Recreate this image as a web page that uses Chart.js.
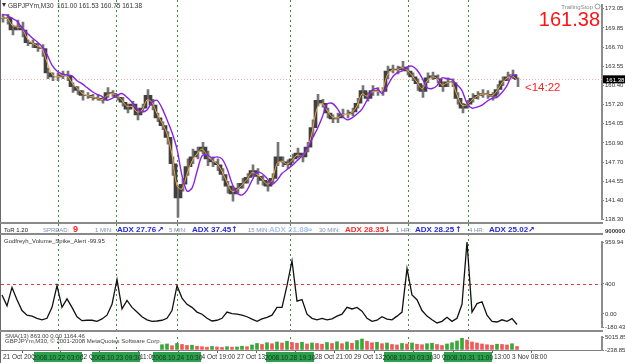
<!DOCTYPE html>
<html>
<head>
<meta charset="utf-8">
<script src="https://cdn.jsdelivr.net/npm/chart.js@4.4.1/dist/chart.umd.min.js"></script>
<style>
  html, body { margin: 0; padding: 0; background: #fff; }
  #wrap { position: relative; width: 625px; height: 363px; overflow: hidden; background: #fff; }
  .pane { position: absolute; left: 0; width: 625px; }
  #pricePane { top: 0; height: 224px; }
  #spikePane { top: 224px; height: 108px; }
  #volPane { top: 332px; height: 31px; }
</style>
</head>
<body>
<div id="wrap">
  <div class="pane" id="pricePane"><canvas id="priceChart"></canvas></div>
  <div class="pane" id="spikePane"><canvas id="spikeChart"></canvas></div>
  <div class="pane" id="volPane"><canvas id="volChart"></canvas></div>
</div>
<script>
// GBPJPYm M30, one entry per sampled bar
const closes = [
  171.44, 171.60, 169.51, 170.15, 169.51, 167.42, 167.26, 166.61, 166.45, 162.43,
  161.79, 161.79, 162.11, 161.95, 160.18, 159.53, 158.73, 158.73, 158.41, 158.25,
  157.93, 159.21, 159.05, 158.41, 157.60, 156.48, 157.28, 155.51, 156.64, 158.73,
  157.12, 155.03, 153.74, 151.81, 147.47, 141.84, 144.09, 146.99, 148.60, 149.56,
  150.21, 148.27, 147.79, 147.31, 145.70, 143.77, 142.48, 143.45, 144.25, 145.22,
  146.34, 145.38, 144.73, 143.77, 145.06, 148.60, 147.79, 147.31, 148.27, 149.24,
  148.60, 150.21, 153.42, 157.93, 157.44, 155.83, 154.87, 155.03, 155.67, 155.67,
  155.99, 157.44, 159.53, 158.25, 159.53, 159.37, 159.37, 162.75, 163.08, 162.92,
  163.40, 162.75, 161.79, 160.66, 159.37, 161.63, 161.95, 161.47, 160.18, 160.98,
  160.82, 158.25, 156.64, 157.28, 158.25, 158.73, 159.05, 158.89, 158.57, 159.70,
  161.14, 161.79, 162.11, 161.38
];
const highs = [
  172.08, 172.08, 170.31, 171.12, 170.80, 167.90, 167.90, 167.26, 167.10, 163.24,
  162.43, 162.43, 162.75, 162.75, 160.82, 160.18, 159.53, 159.21, 158.89, 158.73,
  158.41, 160.02, 159.53, 158.89, 158.41, 157.28, 157.76, 156.64, 157.28, 159.70,
  158.09, 155.83, 154.39, 152.78, 148.60, 143.77, 145.06, 148.27, 149.88, 150.21,
  151.01, 149.56, 148.60, 148.27, 146.67, 144.57, 143.77, 144.25, 145.06, 145.86,
  147.31, 146.67, 145.54, 144.57, 145.86, 151.01, 148.60, 148.11, 149.08, 150.04,
  149.24, 151.01, 154.71, 158.89, 158.09, 156.64, 155.51, 155.83, 156.48, 156.32,
  156.64, 158.25, 160.34, 159.21, 160.34, 160.02, 160.02, 163.56, 163.72, 163.56,
  164.36, 163.40, 162.43, 161.47, 160.34, 162.43, 162.59, 162.11, 160.98, 161.63,
  161.47, 159.21, 157.44, 157.93, 159.05, 159.37, 159.70, 159.53, 159.21, 160.50,
  161.79, 162.59, 162.92, 161.63
];
const lows = [
  170.80, 170.48, 168.71, 169.51, 168.38, 166.94, 166.61, 165.97, 165.17, 161.47,
  161.14, 161.14, 161.47, 161.14, 159.21, 158.89, 157.93, 158.25, 157.93, 157.93,
  157.44, 158.41, 158.57, 157.93, 156.96, 155.83, 156.80, 154.71, 156.16, 157.93,
  156.32, 154.39, 153.10, 150.69, 145.54, 138.62, 142.96, 145.54, 147.47, 148.27,
  149.08, 147.15, 146.99, 146.34, 144.73, 142.64, 141.32, 142.64, 143.45, 144.25,
  145.38, 144.09, 143.93, 142.96, 144.25, 147.15, 146.99, 146.67, 147.63, 148.44,
  147.79, 149.40, 151.97, 156.96, 156.80, 155.03, 154.23, 154.23, 155.03, 155.03,
  155.35, 156.64, 158.73, 157.76, 158.73, 158.73, 158.73, 161.47, 162.43, 162.27,
  162.75, 162.11, 161.14, 159.53, 158.41, 160.82, 161.31, 160.82, 159.37, 160.18,
  160.18, 157.28, 155.83, 156.64, 157.60, 158.09, 158.41, 158.25, 157.93, 158.89,
  160.34, 161.14, 161.47, 160.18
];
// orange (fast) and purple (slow) moving averages
const maFast = [
  171.50, 171.50, 170.30, 170.00, 169.80, 168.20, 167.40, 166.90, 166.50, 164.20,
  162.20, 161.80, 161.95, 162.00, 160.80, 159.90, 159.10, 158.75, 158.50, 158.30,
  158.05, 158.70, 159.00, 158.70, 157.90, 156.90, 156.90, 156.00, 156.30, 158.00,
  157.60, 155.70, 154.20, 152.40, 149.00, 143.80, 143.30, 145.80, 147.90, 149.10,
  149.90, 148.90, 148.00, 147.50, 146.20, 144.40, 142.90, 143.20, 144.00, 144.90,
  146.00, 145.70, 145.00, 144.10, 144.70, 147.50, 147.90, 147.40, 148.00, 148.90,
  148.70, 149.80, 152.60, 156.60, 157.40, 156.30, 155.20, 155.00, 155.50, 155.60,
  155.90, 157.00, 159.00, 158.60, 159.30, 159.40, 159.40, 162.00, 162.90, 162.90,
  163.30, 162.90, 162.00, 160.90, 159.80, 161.10, 161.80, 161.50, 160.40, 160.80,
  160.80, 158.80, 157.10, 157.20, 158.00, 158.60, 158.95, 158.90, 158.65, 159.50,
  160.80, 161.60, 162.00, 161.30
];
const maSlow = [
  172.08, 171.92, 171.44, 170.96, 169.83, 169.03, 168.22, 167.58, 166.77, 165.49,
  163.72, 162.75, 162.27, 162.11, 161.95, 161.14, 160.66, 160.02, 159.37, 158.89,
  158.57, 157.93, 158.25, 158.73, 159.05, 158.41, 157.60, 156.48, 155.99, 156.32,
  157.60, 157.93, 156.64, 154.71, 152.62, 149.88, 145.54, 142.96, 143.45, 146.18,
  148.76, 148.92, 148.44, 148.60, 148.27, 146.67, 144.25, 142.64, 142.32, 143.12,
  144.73, 146.02, 145.86, 145.06, 144.09, 144.73, 145.86, 146.51, 147.15, 147.95,
  148.76, 149.88, 151.49, 153.10, 155.03, 157.28, 157.44, 156.64, 155.35, 154.71,
  155.03, 155.67, 156.48, 157.93, 159.53, 159.86, 159.05, 160.18, 161.63, 162.43,
  162.75, 163.40, 163.56, 162.92, 161.63, 160.02, 159.86, 160.34, 161.63, 161.47,
  161.31, 160.50, 159.53, 157.44, 156.64, 156.80, 157.12, 157.76, 158.25, 158.41,
  159.21, 160.34, 161.95, 162.11
];
// Godfreyh_Volume_Spike_Alert
const spike = [
  253, 107, 353, 190, 45, -17, -30, -59, -79, -59,
  87, 377, 87, 201, 87, -38, -91, -85, -85, -100,
  -67, -17, 128, 458, 66, 179, 87, 24, -38, -79,
  -100, -95, -85, -59, 45, 377, 211, 128, 87, 24,
  -4, -59, -95, -85, -59, 24, 4, -4, -17, -38,
  -71, -100, -67, -46, -17, 87, 87, 377, 710, 170,
  190, -4, -59, -79, -59, -79, -67, -30, -4, 87,
  66, 87, 37, -59, -100, -85, -38, -71, -79, -30,
  24, 605, 253, 190, 45, -30, -79, -121, -100, -46,
  -100, -59, 128, 959.94, 24, 137, 162, -17, -100, -108,
  -79, -100, -63, -142
];
const volumes = [
  null, null, null, null, null, null, null, null, null, null,
  null, null, null, null, null, null, null, null, null, null,
  null, null, null, null, null, null, null, null, null, null,
  null, null,
  1900, 2200, 1500, 2400, 2000, 1600, 1700, 1300, 1100, 900,
  1200, 1000, 800, 1100, 900, 1000, 1300, 1100, 1800, 2400,
  2000, 2700, 2300, 3000, 2600, 3300, 2800, 2500, 2900, 2200,
  2600, 2400, 2100, 2800, 2400, 3100, 2300, 3000, 2500, 3600,
  4200, 3300, 2700, 2900, 2300, 2600, 2000, 1800, 2400, 2200,
  2600, 2100, 1900, 2300, 2500, 2000, 1600, 2200, 2700, 3400,
  4500, 3800, 3000, 2600, 2200, 1900, 1700, 2100, 2000, 1800,
  2300, 1200
];
const lastPrice = 161.38;

const priceTicks = [173.05, 169.85, 166.70, 163.55, 160.40, 157.20, 154.05, 150.90, 147.70, 144.55, 141.40, 138.30];
const spikeTicks = [959.94, 400, 0, -180.43];
const spikeTickLabels = ['959.94', '400', '0.00', '-180.43'];
const volTicks = [5015.85, -238.85];
const timeTicks = [0.2, 7.8, 15.6, 23.4, 31.2, 39.2, 47, 54.8, 62.6, 70.4, 78.4, 86.2, 94.2, 102];
const timeLabels = ['21 Oct 2008', '21 Oct 21:00', '22 Oct 05:00', '23 Oct 11:00', '24 Oct 03:00', '24 Oct 19:00', '27 Oct 13:00',
  '28 Oct 05:00', '28 Oct 21:00', '29 Oct 13:00', '30 Oct 05:00', '30 Oct 21:00', '31 Oct 13:00', '3 Nov 08:00'];
const separators = [11.2, 22.8, 35, 57.6, 81.2, 93.2];
const separatorLabels = ['2008.10.22 03:00', '2008.10.23 09:30', '2008.10.24 10:30', '2008.10.28 19:30', '2008.10.30 03:30', '2008.10.31 11:00'];

const adxRow = [
  { x: 4, text: 'ToR 1.20', color: '#222', font: '6px "Liberation Sans"' },
  { x: 43, text: 'SPREAD:', color: '#7d8fb3', font: '6px "Liberation Sans"' },
  { x: 73, text: '9', color: '#ff2020', font: 'bold 9px "Liberation Sans"' },
  { x: 95, text: '1 MIN:', color: '#7d8fb3', font: '6px "Liberation Sans"' },
  { x: 117, text: 'ADX 27.76', color: '#2525e0', font: 'bold 8px "Liberation Sans"' },
  { x: 157, text: '\u2197', color: '#2525e0', font: 'bold 8px "DejaVu Sans"' },
  { x: 169, text: '5 MIN:', color: '#7d8fb3', font: '6px "Liberation Sans"' },
  { x: 192, text: 'ADX 37.45', color: '#2525e0', font: 'bold 8px "Liberation Sans"' },
  { x: 231, text: '\u2191', color: '#2525e0', font: 'bold 8px "DejaVu Sans"' },
  { x: 248, text: '15 MIN:', color: '#7d8fb3', font: '6px "Liberation Sans"' },
  { x: 269, text: 'ADX 21.88', color: '#a9c6ee', font: 'bold 8px "Liberation Sans"' },
  { x: 306, text: '\u21d4', color: '#a9c6ee', font: 'bold 8px "DejaVu Sans"' },
  { x: 319, text: '30 MIN:', color: '#7d8fb3', font: '6px "Liberation Sans"' },
  { x: 345, text: 'ADX 28.35', color: '#ff2a2a', font: 'bold 8px "Liberation Sans"' },
  { x: 384, text: '\u2193', color: '#ff2a2a', font: 'bold 8px "DejaVu Sans"' },
  { x: 396, text: '1 HR:', color: '#7d8fb3', font: '6px "Liberation Sans"' },
  { x: 415, text: 'ADX 28.25', color: '#2525e0', font: 'bold 8px "Liberation Sans"' },
  { x: 455, text: '\u2191', color: '#2525e0', font: 'bold 8px "DejaVu Sans"' },
  { x: 469, text: '4 HR:', color: '#7d8fb3', font: '6px "Liberation Sans"' },
  { x: 489, text: 'ADX 25.02', color: '#2525e0', font: 'bold 8px "Liberation Sans"' },
  { x: 528, text: '\u2197', color: '#2525e0', font: 'bold 8px "DejaVu Sans"' }
];

Chart.defaults.font.family = '"Liberation Sans", Arial, sans-serif';
Chart.defaults.animation = false;

const pts = arr => arr.map((v, i) => ({ x: i, y: v }));
const opens = closes.map((c, i) => (i ? closes[i - 1] : c));

function xAxis(show) {
  const ax = {
    type: 'linear', min: -0.2, max: 120, display: show, offset: false,
    afterBuildTicks: s => { s.ticks = timeTicks.map(v => ({ value: v })); },
    grid: { drawOnChartArea: false, drawTicks: true, tickLength: 3, color: '#666' },
    border: { display: true, color: '#808080', width: 1 },
    ticks: {
      align: 'start', maxRotation: 0, autoSkip: false, padding: 0, color: '#333',
      font: { size: 6.5 }, callback: (v, i) => timeLabels[i]
    }
  };
  if (show) ax.afterFit = s => { s.height = 13; };
  return ax;
}

function yAxis(min, max, ticks, labels) {
  return {
    position: 'right', min: min, max: max,
    afterFit: s => { s.width = 23; },
    afterBuildTicks: s => { s.ticks = ticks.map(v => ({ value: v })); },
    grid: { drawOnChartArea: false, drawTicks: true, tickLength: 2, color: '#808080' },
    border: { display: true, color: '#8c8c8c', width: 2 },
    ticks: {
      autoSkip: false, padding: 1, color: '#333', font: { size: 6 },
      callback: (v, i) => labels[i]
    }
  };
}

function sepPlugin(full) {
  return {
    id: 'seps',
    beforeDatasetsDraw(chart) {
      const { ctx, scales: { x }, chartArea } = chart;
      ctx.save();
      ctx.strokeStyle = '#3b8f3b';
      ctx.lineWidth = 1;
      ctx.setLineDash([2, 3]);
      separators.forEach(s => {
        const px = Math.round(x.getPixelForValue(s)) + 0.5;
        ctx.beginPath();
        ctx.moveTo(px, full ? 0 : chartArea.top);
        ctx.lineTo(px, full ? chart.height : chartArea.bottom);
        ctx.stroke();
      });
      ctx.restore();
    }
  };
}

function text(ctx, str, x, y, font, color, align) {
  ctx.font = font;
  ctx.fillStyle = color;
  ctx.textAlign = align || 'left';
  ctx.textBaseline = 'alphabetic';
  ctx.fillText(str, x, y);
}

const base = {
  responsive: true,
  maintainAspectRatio: false,
  events: [],
  plugins: { legend: { display: false }, tooltip: { enabled: false } }
};

// ---- price pane ----
new Chart(document.getElementById('priceChart'), {
  type: 'bar',
  data: {
    datasets: [
      { type: 'line', data: pts(maSlow), borderColor: '#8a22e6', borderWidth: 1.4, pointRadius: 0, tension: 0.3, order: 0 },
      { type: 'line', data: pts(maFast), borderColor: '#f4a640', borderWidth: 1, pointRadius: 0, tension: 0.3, order: 1 },
      { data: closes.map((c, i) => ({ x: i, y: [opens[i], c] })), backgroundColor: '#404040', barThickness: 3, order: 2 },
      { data: highs.map((h, i) => ({ x: i, y: [lows[i], h] })), backgroundColor: '#757575', barThickness: 2, order: 3 }
    ]
  },
  options: {
    ...base,
    layout: { padding: { top: 2, bottom: 2, left: 1, right: 0 } },
    scales: { x: xAxis(false), y: yAxis(138.30, 173.69, priceTicks, priceTicks.map(v => v.toFixed(2))) }
  },
  plugins: [sepPlugin(true), {
    id: 'priceDeco',
    beforeDatasetsDraw(chart) {
      const { ctx, chartArea, scales: { y } } = chart;
      const py = Math.round(y.getPixelForValue(lastPrice)) + 0.5;
      ctx.save();
      ctx.strokeStyle = '#f2b8b8';
      ctx.setLineDash([1, 2]);
      ctx.beginPath();
      ctx.moveTo(chartArea.left, py);
      ctx.lineTo(chartArea.right, py);
      ctx.stroke();
      ctx.restore();
    },
    afterDraw(chart) {
      const { ctx, chartArea, scales: { y } } = chart;
      ctx.save();
      ctx.fillStyle = '#6a6a6a';
      ctx.fillRect(0, 0, 1, chart.height);
      ctx.fillStyle = '#8a8a8a';
      ctx.fillRect(0, 222, chartArea.right + 1, 2);
      // current price box on the axis
      const py = y.getPixelForValue(lastPrice);
      ctx.fillStyle = '#000';
      ctx.fillRect(chartArea.right + 1, py - 4, 22, 8);
      text(ctx, lastPrice.toFixed(2), chartArea.right + 4, py + 2.5, '6px "Liberation Sans"', '#fff');
      // symbol header
      ctx.fillStyle = '#333';
      ctx.beginPath();
      ctx.moveTo(2, 3); ctx.lineTo(6, 3); ctx.lineTo(4, 7); ctx.closePath(); ctx.fill();
      text(ctx, 'GBPJPYm,M30  161.00 161.53 160.75 161.38', 8, 8, '6.5px "Liberation Sans"', '#333');
      // big bid and trailing stop label
      text(ctx, 'TrailingStop', 593, 9, '6px "Liberation Sans"', '#8a8a8a', 'right');
      ctx.strokeStyle = '#9a9a9a';
      ctx.beginPath();
      ctx.arc(597.5, 6.5, 2.5, 0, Math.PI * 2);
      ctx.stroke();
      text(ctx, '161.38', 600, 26, '20px "Liberation Sans"', '#ff1414', 'right');
      text(ctx, '<14:22', 525, 91, '11.5px "Liberation Sans"', '#ff2020');
      ctx.restore();
    }
  }]
});

// ---- ADX strip + volume spike pane ----
new Chart(document.getElementById('spikeChart'), {
  type: 'line',
  data: {
    datasets: [
      { data: pts(spike), borderColor: '#111', borderWidth: 1.3, pointRadius: 0, tension: 0 }
    ]
  },
  options: {
    ...base,
    layout: { padding: { top: 18, bottom: 1, left: 1, right: 0 } },
    scales: { x: xAxis(false), y: yAxis(-180.43, 959.94, spikeTicks, spikeTickLabels) }
  },
  plugins: [sepPlugin(true), {
    id: 'spikeDeco',
    beforeDatasetsDraw(chart) {
      const { ctx, chartArea, scales: { y } } = chart;
      const py = Math.round(y.getPixelForValue(400)) + 0.5;
      ctx.save();
      ctx.strokeStyle = '#e23a3a';
      ctx.setLineDash([3, 3]);
      ctx.beginPath();
      ctx.moveTo(chartArea.left, py);
      ctx.lineTo(chartArea.right, py);
      ctx.stroke();
      ctx.restore();
    },
    afterDraw(chart) {
      const { ctx, chartArea } = chart;
      ctx.save();
      ctx.fillStyle = '#6a6a6a';
      ctx.fillRect(0, 0, 1, chart.height);
      ctx.fillStyle = '#8a8a8a';
      ctx.fillRect(0, 9, chartArea.right + 1, 2);
      ctx.fillRect(0, 106, chartArea.right + 1, 2);
      adxRow.forEach(t => text(ctx, t.text, t.x, 8, t.font, t.color));
      text(ctx, '9000000', chartArea.right + 3, 9, 'bold 6px "Liberation Sans"', '#333');
      text(ctx, 'Godfreyh_Volume_Spike_Alert -99.95', 4, 19, '6px "Liberation Sans"', '#333');
      ctx.restore();
    }
  }]
});

// ---- volumes + time axis ----
new Chart(document.getElementById('volChart'), {
  type: 'bar',
  data: {
    datasets: [{
      data: pts(volumes),
      backgroundColor: volumes.map((v, i) => (i && volumes[i - 1] !== null && v < volumes[i - 1] ? '#f05a5a' : '#38a838')),
      barThickness: 3
    }]
  },
  options: {
    ...base,
    layout: { padding: { top: 5, bottom: 0, left: 1, right: 0 } },
    scales: { x: xAxis(true), y: yAxis(-238.85, 5015.85, volTicks, ['5015.85', '-238.85']) }
  },
  plugins: [sepPlugin(false), {
    id: 'volDeco',
    afterDraw(chart) {
      const { ctx, scales: { x } } = chart;
      ctx.save();
      ctx.fillStyle = '#6a6a6a';
      ctx.fillRect(0, 0, 1, chart.height);
      text(ctx, 'SMA(13) 863.00 0.00 1164.46', 5, 6, '6px "Liberation Sans"', '#444');
      text(ctx, 'GBPJPYm,M30, \u00a9 2001-2008 MetaQuotes Software Corp.', 5, 11, '6px "Liberation Sans"', '#444');
      separators.forEach((s, i) => {
        const cx = x.getPixelForValue(s);
        ctx.fillStyle = '#2f9e4f';
        ctx.fillRect(cx - 24, 20, 48, 10);
        text(ctx, separatorLabels[i], cx, 28, '6.5px "Liberation Sans"', '#063d16', 'center');
      });
      ctx.restore();
    }
  }]
});
</script>
</body>
</html>
